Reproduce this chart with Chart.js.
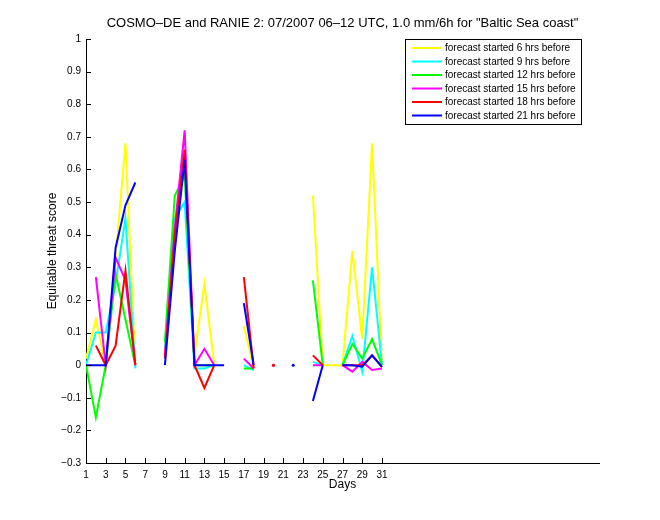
<!DOCTYPE html>
<html>
<head>
<meta charset="utf-8">
<script src="https://cdn.jsdelivr.net/npm/chart.js@4/dist/chart.umd.min.js"></script>
<style>
  html, body { margin: 0; padding: 0; background: #fff; }
  #wrap { width: 660px; height: 520px; }
</style>
</head>
<body>
<div id="wrap"><canvas id="myChart" width="660" height="520"></canvas></div>
<script>
// days of the month, July 2007
const days = [1,2,3,4,5,6,7,8,9,10,11,12,13,14,15,16,17,18,19,20,21,22,23,24,25,26,27,28,29,30,31];
const xTicks = [1,3,5,7,9,11,13,15,17,19,21,23,25,27,29,31];

// equitable threat score per forecast start (null = no value)
const ets6  = [0.02, 0.14, 0.00, 0.33, 0.68, 0.00, null, null, 0.05, 0.45, 0.60, 0.03, 0.25, 0.00, null, null, 0.12, -0.01, null, null, null, null, null, 0.52, 0.00, 0.00, 0.00, 0.35, 0.08, 0.68, 0.00];
const ets9  = [0.00, 0.10, 0.10, 0.25, 0.45, -0.01, null, null, 0.05, 0.45, 0.50, -0.01, -0.01, 0.00, null, null, 0.00, -0.015, null, null, null, null, null, 0.01, 0.00, null, 0.00, 0.09, -0.02, 0.30, 0.00];
const ets12 = [0.00, -0.16, 0.00, 0.28, 0.14, 0.00, null, null, 0.07, 0.52, 0.58, 0.00, 0.00, 0.00, null, null, -0.01, -0.01, null, null, null, null, null, 0.26, 0.00, null, 0.00, 0.065, 0.02, 0.08, 0.00];
const ets15 = [null, 0.27, 0.00, 0.33, 0.26, 0.00, null, null, 0.03, 0.42, 0.72, 0.00, 0.05, 0.00, null, null, 0.02, -0.01, null, 0.00, null, null, null, 0.00, 0.00, null, 0.00, -0.02, 0.01, -0.015, -0.01];
const ets18 = [null, 0.06, 0.00, 0.06, 0.29, 0.00, null, null, 0.02, 0.40, 0.66, 0.00, -0.07, 0.00, null, null, 0.27, -0.01, null, 0.00, null, null, null, 0.03, 0.00, null, 0.00, 0.00, 0.00, 0.03, -0.005];
const ets21 = [0.00, 0.00, 0.00, 0.36, 0.49, 0.56, null, null, 0.00, 0.35, 0.63, 0.00, 0.00, 0.00, 0.00, null, 0.19, 0.00, null, null, null, 0.00, null, -0.11, 0.00, null, 0.00, 0.00, -0.005, 0.03, -0.005];

const seriesNames = ['forecast started 6 hrs before', 'forecast started 9 hrs before', 'forecast started 12 hrs before',
                     'forecast started 15 hrs before', 'forecast started 18 hrs before', 'forecast started 21 hrs before'];
const seriesColors = ['#ffff00', '#00ffff', '#00ff00', '#ff00ff', '#ff0000', '#0000ff'];
const allSeries = [ets6, ets9, ets12, ets15, ets18, ets21];

const FONT = 'Helvetica, "Liberation Sans", Arial, sans-serif';

// lone values get a small dot so they stay visible
function loneDot(ctx) {
  const d = ctx.dataset.data;
  const i = ctx.dataIndex;
  if (!d[i] || d[i].y === null) return 0;
  const prev = i > 0 ? d[i - 1].y : null;
  const next = i < d.length - 1 ? d[i + 1].y : null;
  return (prev === null && next === null) ? 1.5 : 0;
}

const datasets = allSeries.map((s, k) => ({
  label: seriesNames[k],
  data: days.map((d, i) => ({ x: d, y: s[i] })),
  borderColor: seriesColors[k],
  backgroundColor: seriesColors[k],
  borderWidth: 2,
  pointRadius: loneDot,
  pointBorderWidth: 0,
  pointHoverRadius: 0,
  spanGaps: false,
  tension: 0,
  order: 5 - k
}));

// inward tick marks, matlab style
const innerTicks = {
  id: 'innerTicks',
  afterDraw(chart) {
    const c = chart.ctx;
    const xs = chart.scales.x, ys = chart.scales.y;
    const a = chart.chartArea;
    c.save();
    c.strokeStyle = '#000';
    c.lineWidth = 1;
    c.beginPath();
    ys.ticks.forEach(t => {
      const y = Math.round(ys.getPixelForValue(t.value)) + 0.5;
      c.moveTo(a.left, y);
      c.lineTo(a.left + 5, y);
    });
    xs.ticks.forEach(t => {
      const x = Math.round(xs.getPixelForValue(t.value)) + 0.5;
      c.moveTo(x, a.bottom);
      c.lineTo(x, a.bottom - 5);
    });
    c.stroke();
    c.restore();
  }
};

// title + boxed legend inside the axes
const extras = {
  id: 'extras',
  afterDraw(chart) {
    const c = chart.ctx;
    const a = chart.chartArea;
    c.save();
    c.fillStyle = '#000';
    c.font = '13px ' + FONT;
    c.textAlign = 'center';
    c.textBaseline = 'middle';
    c.fillText('COSMO\u2013DE and RANIE 2: 07/2007 06\u201312 UTC, 1.0 mm/6h for "Baltic Sea coast"', (a.left + a.right) / 2, 23);

    const bx = 405, by = 39.5, bw = 176, bh = 85;
    c.fillStyle = '#fff';
    c.fillRect(bx, by, bw, bh);
    c.strokeStyle = '#000';
    c.lineWidth = 1;
    c.strokeRect(bx + 0.5, by, bw, bh);
    c.font = '10px ' + FONT;
    c.textAlign = 'left';
    chart.data.datasets.forEach((ds, k) => {
      const y = 48 + k * 13.5;
      c.strokeStyle = ds.borderColor;
      c.lineWidth = 2;
      c.beginPath();
      c.moveTo(412, y);
      c.lineTo(442, y);
      c.stroke();
      c.fillStyle = '#000';
      c.fillText(ds.label, 445, y + 0.5);
    });
    c.restore();
  }
};

const ctx = document.getElementById('myChart').getContext('2d');
Chart.defaults.font.family = FONT;
Chart.defaults.color = '#000';

new Chart(ctx, {
  type: 'line',
  data: { datasets: datasets },
  options: {
    responsive: false,
    animation: false,
    events: [],
    layout: { padding: { top: 39, right: 61, left: 0, bottom: 0 } },
    plugins: {
      legend: { display: false },
      title: { display: false },
      tooltip: { enabled: false }
    },
    scales: {
      x: {
        type: 'linear',
        min: 1,
        max: 53,
        afterBuildTicks: s => { s.ticks = xTicks.map(v => ({ value: v })); },
        afterFit: s => { s.height = 57; },
        grid: { display: false, drawTicks: false },
        border: { display: true, color: '#000', width: 1 },
        ticks: { font: { size: 10 }, padding: 6, maxRotation: 0, autoSkip: false, callback: v => String(v) },
        title: { display: true, text: 'Days', font: { size: 12 }, padding: { top: 0, bottom: 28 } }
      },
      y: {
        min: -0.3,
        max: 1,
        afterFit: s => { s.width = 86; },
        grid: { display: false, drawTicks: false },
        border: { display: true, color: '#000', width: 1 },
        ticks: {
          stepSize: 0.1,
          font: { size: 10 },
          padding: 5,
          callback: v => {
            const r = Math.round(v * 10) / 10;
            return (r < 0 ? '\u2212' : '') + String(Math.abs(r));
          }
        },
        title: { display: true, text: 'Equitable threat score', font: { size: 12 }, padding: { top: 45, bottom: 0 } }
      }
    }
  },
  plugins: [innerTicks, extras]
});
</script>
</body>
</html>
